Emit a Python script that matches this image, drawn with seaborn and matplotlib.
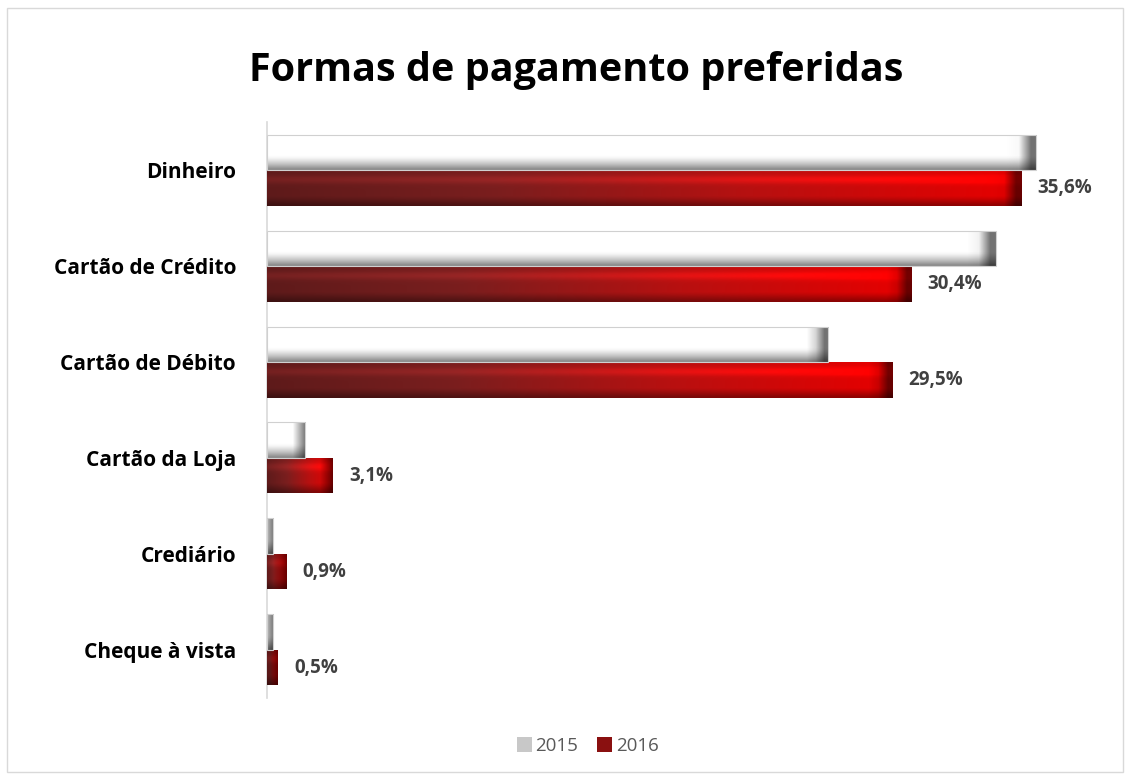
import numpy as np
import pandas as pd
import matplotlib.pyplot as plt
import seaborn as sns
from matplotlib.patches import Rectangle
from matplotlib.colors import LinearSegmentedColormap

# data
categories = ["Dinheiro", "Cartão de Crédito", "Cartão de Débito",
              "Cartão da Loja", "Crediário", "Cheque à vista"]
years = ["2015", "2016"]
values_2015 = [36.3, 34.4, 26.5, 1.8, 0.3, 0.3]
values_2016 = [35.6, 30.4, 29.5, 3.1, 0.9, 0.5]

df = pd.DataFrame({
    "Forma": categories * 2,
    "Ano": [years[0]] * len(categories) + [years[1]] * len(categories),
    "Valor": values_2015 + values_2016,
})

sns.set_theme(style="white")
plt.rcParams["font.family"] = ["Open Sans", "DejaVu Sans"]

fig = plt.figure(figsize=(11.3, 7.78), dpi=100)
ax = fig.add_axes([0.236, 0.103, 0.75, 0.74])

sns.barplot(data=df, y="Forma", x="Valor", hue="Ano", orient="h",
            palette=["#f2f2f2", "#b00000"], width=0.74, gap=0.0,
            edgecolor="none", linewidth=0, ax=ax)

# bevel-ish gradients on each bar
red_cmap = LinearSegmentedColormap.from_list(
    "red", ["#5a1a1a", "#7a1e1e", "#b81010", "#e60000"])
n = len(categories)
for i, p in enumerate(ax.patches[:2 * n]):
    x0, y0 = p.get_x(), p.get_y()
    w, h = p.get_width(), p.get_height()
    if w <= 0:
        continue
    xs = np.linspace(0, 1, 64)
    ys = np.linspace(0, 1, 16)
    X, Y = np.meshgrid(xs, ys)
    if i < n:
        # 2015: white with grey shadow along the bottom
        shade = 1.0 - 0.45 * np.clip((Y - 0.62) / 0.38, 0, 1) ** 1.3
        rgb = np.dstack([shade, shade, shade])
    else:
        rgb = red_cmap(X * 0.95 + 0.05)[..., :3]
        light = 1.0 + 0.25 * np.exp(-((Y - 0.25) / 0.12) ** 2) - 0.35 * np.clip((Y - 0.75) / 0.25, 0, 1)
        rgb = np.clip(rgb * light[..., None], 0, 1)
    # darker bevel at the end of the bar
    end = np.clip((X * w - (w - 0.6)) / 0.6, 0, 1)
    rgb = rgb * (1 - 0.55 * end[..., None])
    im = ax.imshow(rgb, extent=[x0, x0 + w, y0 + h, y0], aspect="auto",
                   interpolation="bilinear", zorder=3)
    im.set_clip_path(p)
    if i < n:
        ax.add_patch(Rectangle((x0, y0), w, h, fill=False, edgecolor="#d0d0d0",
                               linewidth=0.8, zorder=4))

# value labels on the 2016 bars
for p, v in zip(ax.patches[n:2 * n], values_2016):
    ax.annotate(f"{v:.1f}%".replace(".", ","),
                (p.get_x() + p.get_width(), p.get_y() + p.get_height() / 2),
                xytext=(12, 0), textcoords="offset points",
                ha="left", va="center", fontsize=13.5, fontweight="bold",
                color="#404040")

ax.set_xlim(0, 40)
ax.set_ylim(n - 0.5, -0.5)
ax.set_xlabel("")
ax.set_ylabel("")
ax.set_xticks([])
ax.tick_params(axis="y", length=0, pad=22)
for lab in ax.get_yticklabels():
    lab.set_fontsize(15)
    lab.set_fontweight("bold")
    lab.set_color("black")
for s in ["top", "right", "bottom"]:
    ax.spines[s].set_visible(False)
ax.spines["left"].set_color("#d9d9d9")
ax.spines["left"].set_linewidth(1.2)

fig.suptitle("Formas de pagamento preferidas", x=0.51, y=0.935,
             fontsize=28.5, fontweight="bold", color="black")

handles, labels = ax.get_legend_handles_labels()
ax.legend_.remove()
handles[0].set_facecolor("#c8c8c8")
handles[0].set_edgecolor("#8c8c8c")
handles[1].set_facecolor("#8a1010")
fig.legend(handles, labels, loc="center", bbox_to_anchor=(0.52, 0.041),
           ncol=2, frameon=False, fontsize=13.5, labelcolor="#595959",
           handlelength=0.8, handleheight=0.8, handletextpad=0.2,
           columnspacing=1.0)

fig.patches.append(Rectangle((0.006, 0.008), 0.988, 0.982, transform=fig.transFigure,
                             fill=False, edgecolor="#d9d9d9", linewidth=1))

fig.savefig("out.png", dpi=100)
